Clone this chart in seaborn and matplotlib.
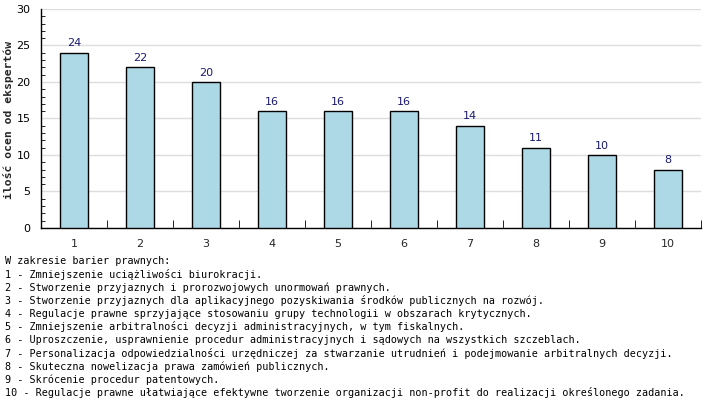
import matplotlib
matplotlib.use("Agg")
import matplotlib.pyplot as plt
import seaborn as sns
import pandas as pd
from matplotlib.ticker import MultipleLocator, FixedLocator

categories = ["1", "2", "3", "4", "5", "6", "7", "8", "9", "10"]
values = [24, 22, 20, 16, 16, 16, 14, 11, 10, 8]
y_label = "ilość ocen od ekspertów"
legend_title = "W zakresie barier prawnych:"
legend_items = [
    "Zmniejszenie uciążliwości biurokracji.",
    "Stworzenie przyjaznych i prorozwojowych unormowań prawnych.",
    "Stworzenie przyjaznych dla aplikacyjnego pozyskiwania środków publicznych na rozwój.",
    "Regulacje prawne sprzyjające stosowaniu grupy technologii w obszarach krytycznych.",
    "Zmniejszenie arbitralności decyzji administracyjnych, w tym fiskalnych.",
    "Uproszczenie, usprawnienie procedur administracyjnych i sądowych na wszystkich szczeblach.",
    "Personalizacja odpowiedzialności urzędniczej za stwarzanie utrudnień i podejmowanie arbitralnych decyzji.",
    "Skuteczna nowelizacja prawa zamówień publicznych.",
    "Skrócenie procedur patentowych.",
    "Regulacje prawne ułatwiające efektywne tworzenie organizacji non-profit do realizacji określonego zadania.",
]

sns.set_style("white")
plt.rcParams["font.family"] = ["DejaVu Sans"]

df = pd.DataFrame({"cat": categories, "val": values})

W, H = 707, 404
fig = plt.figure(figsize=(W / 100, H / 100), dpi=100)
ax = fig.add_axes([41 / W, 1 - 228 / H, 660 / W, 219 / H])

sns.barplot(data=df, x="cat", y="val", color="#add8e6", saturation=1,
            edgecolor="black", linewidth=1, width=0.41, ax=ax, zorder=3)

ax.set_xlim(-0.5, 9.5)
ax.set_ylim(0, 30)
ax.yaxis.set_major_locator(MultipleLocator(5))
ax.yaxis.set_minor_locator(MultipleLocator(1))
ax.grid(axis="y", which="major", color="#dddddd", linewidth=1, zorder=0)
ax.set_axisbelow(True)
for s in ["top", "right"]:
    ax.spines[s].set_visible(False)
for s in ["left", "bottom"]:
    ax.spines[s].set_color("black")
    ax.spines[s].set_linewidth(1)

ax.tick_params(axis="y", which="major", direction="out", length=4, labelsize=8, colors="black")
ax.tick_params(axis="y", which="minor", direction="in", length=3, left=True, color="black")
ax.xaxis.set_minor_locator(FixedLocator([i + 0.5 for i in range(len(categories))]))
ax.tick_params(axis="x", which="major", length=0, labelsize=8, pad=8)
ax.tick_params(axis="x", which="minor", direction="in", length=6, bottom=True, color="black")

ax.set_xlabel("")
ax.set_ylabel("")
fig.text(9 / W, 1 - 120 / H, y_label, family="DejaVu Sans Mono", fontweight="bold",
         fontsize=8.2, rotation=90, ha="center", va="center")

for i, v in enumerate(values):
    ax.text(i, v + 0.6, str(v), ha="center", va="bottom", fontsize=8, color="#1a1a6e")

lines = [legend_title] + [f"{i + 1} - {t}" for i, t in enumerate(legend_items)]
y0 = 261
for k, line in enumerate(lines):
    fig.text(5 / W, 1 - (y0 + k * 13.2) / H, line, family="DejaVu Sans Mono",
             fontsize=7.3, va="center", ha="left", color="black")

fig.savefig("out.png", dpi=100, facecolor="white")
